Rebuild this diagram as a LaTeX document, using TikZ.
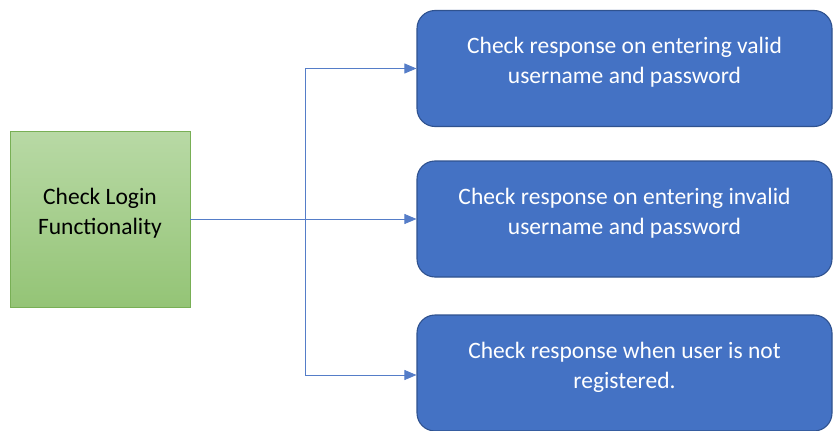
\documentclass[tikz,border=0pt]{standalone}
\usepackage{fontspec}
\setmainfont{Carlito}
\usetikzlibrary{arrows.meta, positioning, shapes, calc}
\definecolor{caseblue}{RGB}{68,114,196}
\definecolor{caseedge}{RGB}{47,82,143}
\definecolor{linkblue}{RGB}{85,125,200}
\definecolor{greentop}{RGB}{184,217,165}
\definecolor{greenbot}{RGB}{148,196,118}
\definecolor{greenedge}{RGB}{120,175,85}
\tikzstyle{casebox}=[shape=rectangle, rounded corners=18pt, draw=caseedge, fill=caseblue, line width=1.1pt, text=white, align=center, minimum width=415pt, minimum height=116pt, font=\fontsize{23.5}{30}\selectfont]
\tikzstyle{mainbox}=[shape=rectangle, draw=greenedge, top color=greentop, bottom color=greenbot, line width=0.8pt, align=center, minimum width=180pt, minimum height=176pt, font=\fontsize{23.5}{30}\selectfont]
\tikzstyle{branch}=[draw=linkblue, line width=0.9pt, -{Triangle[length=12pt,width=10pt]}]
\begin{document}
\begin{tikzpicture}[x=1pt,y=-1pt]
\useasboundingbox (0,0) rectangle (833,431);
% root
\node[mainbox] (login) at (100,219) {Check Login\\Functionality\\[-14pt]\mbox{}};
% test cases
\node[casebox] (valid) at (624.5,68.5) {Check response on entering valid\\username and password\\[-14pt]\mbox{}};
\node[casebox] (invalid) at (624.5,219) {Check response on entering invalid\\username and password\\[-14pt]\mbox{}};
\node[casebox] (unreg) at (624.5,373) {Check response when user is not\\registered.\\[-14pt]\mbox{}};
% connectors
\coordinate (split) at (305,219);
\draw[draw=linkblue, line width=0.9pt] (login.east) -- (split);
\draw[branch] (split) |- ($(unreg.west)+(0,2)$);
\foreach \c in {valid,invalid}{
\draw[branch] (split) |- (\c.west);
}
\end{tikzpicture}
\end{document}
